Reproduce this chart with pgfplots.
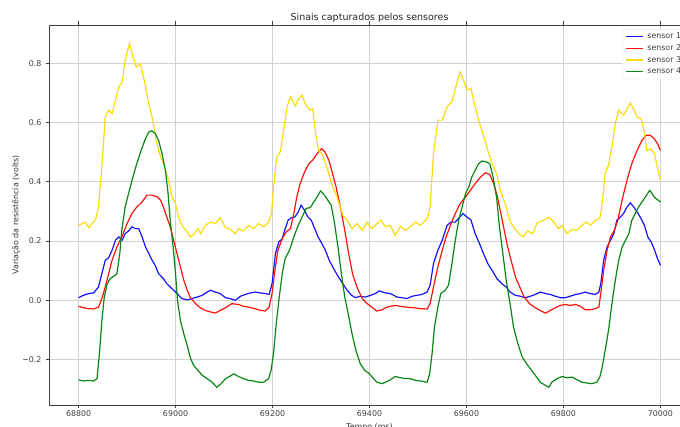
\documentclass[border=0pt]{standalone}
\usepackage{fontspec}
\setmainfont{DejaVu Sans}
\usepackage{pgfplots}
\pgfplotsset{compat=1.18}
\definecolor{sone}{RGB}{20,20,250}
\definecolor{stwo}{RGB}{250,20,10}
\definecolor{sthree}{RGB}{250,220,15}
\definecolor{sfour}{RGB}{10,135,20}
\begin{document}
\begin{tikzpicture}[x=1pt,y=1pt]
\path[use as bounding box, clip] (0,0) rectangle (680,427);
\begin{axis}[
  at={(49.5pt,22pt)}, anchor=south west,
  width=640pt, height=380pt, scale only axis,
  xmin=68740, xmax=70060, ymin=-0.353, ymax=0.929,
  scaled x ticks=false, scaled y ticks=false,
  xtick={68800,69000,69200,69400,69600,69800,70000},
  xticklabels={68800,69000,69200,69400,69600,69800,70000},
  ytick={-0.2,0,0.2,0.4,0.6,0.8},
  yticklabels={−0.2,0.0,0.2,0.4,0.6,0.8},
  tick align=outside, major tick length=3.5pt,
  tick style={black!75, line width=0.8pt},
  grid=major, grid style={black!18, line width=0.8pt},
  axis line style={black!75, line width=0.9pt},
  ticklabel style={font=\fontsize{7.9}{9}\selectfont, text=black!75},
  xticklabel style={anchor=base, yshift=-7.8pt},
  yticklabel style={anchor=east, xshift=-1pt},
  every axis title shift=0pt,
  title={Sinais capturados pelos sensores},
  title style={at={(axis description cs:0.5,1)}, anchor=base, yshift=4.5pt, font=\fontsize{9.5}{11}\selectfont, text=black!85},
  xlabel={Tempo (ms)},
  xlabel style={at={(axis description cs:0.5,0)}, anchor=base, yshift=-24.5pt, font=\fontsize{7.9}{9}\selectfont, text=black!80},
  ylabel={Variação da resistência (volts)},
  ylabel style={at={(axis description cs:-0.0523,0.5)}, anchor=center, font=\fontsize{7.9}{9}\selectfont, text=black!80},
  legend style={at={(axis description cs:0.99297,0.98947)}, anchor=north east,
    draw=black!15, fill=white, fill opacity=0.85, text opacity=1, rounded corners=2pt,
    font=\fontsize{7.9}{9}\selectfont, text=black!75, inner sep=2.5pt, row sep=2pt, column sep=2.5pt,
    nodes={inner sep=1.2pt}},
  legend cell align=left,
  legend image code/.code={\draw[#1] (0pt,0pt) -- (17pt,0pt);},
]
\addplot[sone, line width=1.2pt] coordinates {(68800,0.009)(68810,0.017)(68821,0.023)(68831,0.025)(68841,0.045)(68848,0.090)(68855,0.135)(68862,0.144)(68869,0.169)(68876,0.203)(68883,0.214)(68890,0.203)(68896,0.225)(68903,0.234)(68910,0.248)(68917,0.242)(68924,0.242)(68931,0.214)(68938,0.180)(68945,0.158)(68951,0.137)(68958,0.118)(68965,0.090)(68975,0.073)(68982,0.056)(68993,0.039)(69003,0.023)(69013,0.006)(69024,0.002)(69034,0.006)(69044,0.011)(69055,0.017)(69065,0.028)(69072,0.034)(69082,0.028)(69092,0.023)(69103,0.009)(69113,0.006)(69123,0.000)(69134,0.014)(69144,0.020)(69154,0.025)(69165,0.028)(69175,0.025)(69185,0.023)(69193,0.020)(69199,0.056)(69206,0.158)(69213,0.197)(69220,0.208)(69225,0.236)(69232,0.270)(69239,0.279)(69246,0.281)(69253,0.298)(69259,0.321)(69266,0.304)(69273,0.281)(69280,0.270)(69287,0.242)(69294,0.214)(69302,0.191)(69309,0.169)(69317,0.135)(69326,0.107)(69336,0.079)(69345,0.056)(69354,0.034)(69363,0.017)(69371,0.009)(69381,0.014)(69391,0.011)(69402,0.017)(69412,0.023)(69420,0.032)(69433,0.025)(69443,0.023)(69457,0.011)(69467,0.009)(69477,0.006)(69488,0.014)(69498,0.017)(69508,0.020)(69519,0.028)(69525,0.051)(69532,0.124)(69541,0.169)(69550,0.203)(69560,0.253)(69568,0.264)(69577,0.264)(69586,0.281)(69593,0.293)(69601,0.281)(69609,0.272)(69618,0.225)(69627,0.191)(69635,0.158)(69644,0.124)(69653,0.101)(69663,0.073)(69673,0.056)(69682,0.045)(69690,0.028)(69701,0.017)(69711,0.014)(69721,0.009)(69732,0.014)(69742,0.020)(69752,0.028)(69763,0.023)(69773,0.020)(69783,0.014)(69794,0.009)(69804,0.009)(69814,0.014)(69825,0.020)(69835,0.023)(69845,0.028)(69855,0.023)(69866,0.020)(69873,0.028)(69877,0.056)(69883,0.135)(69890,0.180)(69897,0.203)(69904,0.225)(69910,0.270)(69917,0.281)(69924,0.293)(69931,0.315)(69938,0.329)(69945,0.315)(69952,0.298)(69960,0.276)(69967,0.253)(69974,0.214)(69981,0.197)(69987,0.174)(69994,0.141)(70000,0.118)};
\addlegendentry{sensor 1}
\addplot[stwo, line width=1.2pt] coordinates {(68800,-0.020)(68810,-0.025)(68821,-0.028)(68831,-0.029)(68841,-0.023)(68848,0.006)(68855,0.045)(68862,0.090)(68869,0.135)(68879,0.180)(68889,0.214)(68900,0.259)(68910,0.293)(68920,0.315)(68931,0.332)(68941,0.355)(68951,0.355)(68962,0.349)(68969,0.338)(68975,0.315)(68982,0.281)(68989,0.248)(68996,0.203)(69003,0.158)(69010,0.113)(69017,0.068)(69024,0.034)(69030,0.011)(69041,-0.011)(69051,-0.025)(69061,-0.034)(69072,-0.039)(69082,-0.043)(69092,-0.034)(69103,-0.025)(69116,-0.011)(69130,-0.014)(69140,-0.020)(69151,-0.023)(69164,-0.028)(69175,-0.034)(69185,-0.036)(69193,-0.023)(69199,0.023)(69204,0.090)(69211,0.169)(69220,0.208)(69228,0.231)(69237,0.242)(69244,0.293)(69250,0.349)(69257,0.394)(69266,0.433)(69275,0.461)(69283,0.473)(69292,0.495)(69301,0.512)(69308,0.501)(69316,0.473)(69323,0.433)(69331,0.383)(69340,0.315)(69349,0.236)(69357,0.158)(69365,0.090)(69374,0.045)(69385,0.006)(69395,-0.011)(69405,-0.023)(69415,-0.036)(69426,-0.032)(69433,-0.025)(69443,-0.020)(69453,-0.017)(69464,-0.020)(69477,-0.023)(69491,-0.025)(69505,-0.028)(69519,-0.029)(69525,-0.011)(69532,0.045)(69541,0.113)(69550,0.169)(69558,0.214)(69568,0.259)(69577,0.293)(69587,0.326)(69598,0.349)(69608,0.371)(69618,0.394)(69629,0.416)(69639,0.430)(69648,0.425)(69656,0.394)(69664,0.349)(69671,0.293)(69678,0.236)(69685,0.180)(69692,0.135)(69701,0.079)(69710,0.045)(69719,0.011)(69730,-0.011)(69742,-0.025)(69752,-0.034)(69763,-0.043)(69773,-0.034)(69783,-0.025)(69794,-0.017)(69804,-0.014)(69814,-0.017)(69825,-0.014)(69835,-0.020)(69845,-0.032)(69855,-0.032)(69866,-0.028)(69873,-0.023)(69877,0.023)(69883,0.101)(69890,0.169)(69897,0.214)(69905,0.236)(69912,0.270)(69921,0.338)(69931,0.405)(69941,0.461)(69952,0.506)(69962,0.540)(69971,0.557)(69979,0.557)(69987,0.546)(69994,0.529)(70000,0.506)};
\addlegendentry{sensor 2}
\addplot[sthree, line width=1.2pt] coordinates {(68800,0.253)(68814,0.264)(68821,0.245)(68835,0.272)(68841,0.315)(68848,0.450)(68855,0.619)(68862,0.642)(68869,0.630)(68876,0.675)(68883,0.720)(68890,0.737)(68896,0.810)(68905,0.867)(68912,0.822)(68919,0.788)(68927,0.799)(68934,0.754)(68945,0.664)(68953,0.608)(68960,0.540)(68967,0.495)(68975,0.461)(68984,0.416)(68993,0.349)(69000,0.326)(69006,0.281)(69013,0.253)(69024,0.231)(69031,0.214)(69039,0.225)(69046,0.242)(69052,0.225)(69061,0.253)(69072,0.264)(69082,0.259)(69092,0.279)(69103,0.245)(69113,0.239)(69123,0.225)(69130,0.242)(69140,0.234)(69151,0.253)(69161,0.242)(69171,0.259)(69182,0.248)(69192,0.264)(69198,0.293)(69202,0.383)(69209,0.484)(69216,0.501)(69223,0.574)(69230,0.653)(69237,0.687)(69247,0.655)(69254,0.681)(69261,0.692)(69269,0.658)(69278,0.642)(69283,0.647)(69288,0.574)(69295,0.506)(69302,0.495)(69312,0.450)(69323,0.388)(69333,0.349)(69345,0.287)(69354,0.270)(69364,0.242)(69374,0.259)(69385,0.236)(69395,0.264)(69405,0.242)(69416,0.259)(69424,0.270)(69433,0.248)(69443,0.253)(69453,0.219)(69464,0.250)(69474,0.236)(69484,0.248)(69495,0.264)(69505,0.253)(69519,0.276)(69525,0.315)(69532,0.495)(69541,0.608)(69550,0.608)(69560,0.653)(69570,0.670)(69579,0.726)(69587,0.771)(69594,0.743)(69601,0.709)(69609,0.715)(69618,0.653)(69627,0.597)(69636,0.551)(69644,0.506)(69653,0.461)(69662,0.428)(69670,0.371)(69680,0.326)(69689,0.270)(69697,0.248)(69708,0.225)(69717,0.214)(69726,0.234)(69737,0.225)(69745,0.259)(69749,0.264)(69759,0.270)(69770,0.281)(69780,0.264)(69790,0.242)(69797,0.253)(69807,0.225)(69818,0.239)(69828,0.236)(69838,0.253)(69847,0.264)(69856,0.253)(69866,0.270)(69875,0.276)(69880,0.326)(69886,0.428)(69893,0.456)(69900,0.518)(69907,0.597)(69914,0.642)(69924,0.625)(69933,0.651)(69938,0.666)(69946,0.642)(69952,0.619)(69960,0.613)(69967,0.568)(69972,0.506)(69979,0.512)(69988,0.495)(69994,0.445)(70000,0.405)};
\addlegendentry{sensor 3}
\addplot[sfour, line width=1.2pt] coordinates {(68800,-0.268)(68810,-0.272)(68821,-0.270)(68831,-0.272)(68838,-0.264)(68843,-0.180)(68848,-0.068)(68853,0.011)(68859,0.056)(68865,0.073)(68872,0.081)(68879,0.090)(68885,0.158)(68889,0.236)(68896,0.315)(68903,0.360)(68912,0.416)(68920,0.461)(68929,0.506)(68938,0.546)(68945,0.568)(68951,0.572)(68958,0.563)(68965,0.540)(68972,0.495)(68979,0.439)(68984,0.371)(68989,0.270)(68995,0.180)(69000,0.090)(69004,0.000)(69010,-0.068)(69017,-0.113)(69024,-0.152)(69030,-0.191)(69037,-0.219)(69046,-0.236)(69055,-0.253)(69065,-0.264)(69075,-0.276)(69085,-0.293)(69094,-0.281)(69103,-0.264)(69109,-0.259)(69120,-0.248)(69130,-0.257)(69140,-0.264)(69151,-0.270)(69161,-0.272)(69171,-0.276)(69182,-0.276)(69192,-0.264)(69197,-0.236)(69202,-0.180)(69207,-0.090)(69213,0.000)(69220,0.090)(69226,0.141)(69235,0.169)(69244,0.214)(69253,0.253)(69261,0.281)(69269,0.310)(69278,0.313)(69285,0.332)(69292,0.349)(69299,0.369)(69305,0.360)(69312,0.343)(69321,0.321)(69328,0.259)(69335,0.180)(69342,0.090)(69349,0.011)(69356,-0.045)(69364,-0.113)(69372,-0.169)(69381,-0.214)(69390,-0.236)(69398,-0.245)(69407,-0.261)(69415,-0.276)(69426,-0.281)(69433,-0.276)(69443,-0.268)(69453,-0.257)(69464,-0.261)(69474,-0.264)(69484,-0.264)(69495,-0.270)(69505,-0.272)(69519,-0.276)(69524,-0.248)(69529,-0.180)(69534,-0.090)(69541,-0.023)(69547,0.023)(69556,0.034)(69563,0.051)(69570,0.124)(69577,0.203)(69584,0.270)(69591,0.315)(69598,0.360)(69605,0.383)(69611,0.416)(69618,0.439)(69625,0.461)(69632,0.470)(69641,0.467)(69648,0.461)(69655,0.416)(69662,0.349)(69668,0.248)(69675,0.158)(69682,0.068)(69691,-0.023)(69697,-0.090)(69706,-0.146)(69715,-0.191)(69724,-0.214)(69732,-0.231)(69742,-0.253)(69752,-0.276)(69763,-0.287)(69770,-0.293)(69776,-0.276)(69787,-0.264)(69797,-0.257)(69807,-0.261)(69818,-0.259)(69828,-0.268)(69838,-0.276)(69849,-0.279)(69859,-0.281)(69869,-0.276)(69875,-0.259)(69880,-0.225)(69886,-0.169)(69893,-0.101)(69900,-0.011)(69907,0.068)(69914,0.135)(69921,0.180)(69928,0.203)(69935,0.225)(69941,0.270)(69948,0.293)(69955,0.315)(69962,0.332)(69969,0.349)(69978,0.371)(69983,0.360)(69987,0.349)(69994,0.340)(70000,0.332)};
\addlegendentry{sensor 4}
\end{axis}
\end{tikzpicture}
\end{document}
